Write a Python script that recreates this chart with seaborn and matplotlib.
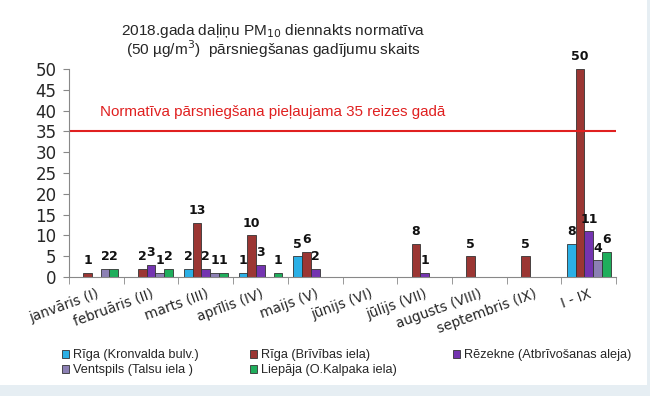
import numpy as np
import pandas as pd
import matplotlib
matplotlib.use('Agg')
import matplotlib.pyplot as plt
from matplotlib.patches import Rectangle
import seaborn as sns

months = ["janvāris (I)", "februāris (II)", "marts (III)", "aprīlis (IV)", "maijs (V)",
          "jūnijs (VI)", "jūlijs (VII)", "augusts (VIII)", "septembris (IX)", "I - IX"]
stations = ["Rīga (Kronvalda bulv.)", "Rīga (Brīvības iela)", "Rēzekne (Atbrīvošanas aleja)",
            "Ventspils (Talsu iela )", "Liepāja (O.Kalpaka iela)"]
kronvalda = [0, 0, 2, 1, 5, 0, 0, 0, 0, 8]
brivibas = [1, 2, 13, 10, 6, 0, 8, 5, 5, 50]
rezekne = [0, 3, 2, 3, 2, 0, 1, 0, 0, 11]
ventspils = [2, 1, 1, 0, 0, 0, 0, 0, 0, 4]
liepaja = [2, 2, 1, 1, 0, 0, 0, 0, 0, 6]
limit = 35
colors = ["#2bb0e6", "#9b3633", "#7434b0", "#8c80b4", "#1fae5c"]

rows = []
for st, vals in zip(stations, [kronvalda, brivibas, rezekne, ventspils, liepaja]):
    for m, v in zip(months, vals):
        rows.append({"month": m, "station": st, "count": v})
df = pd.DataFrame(rows)

sns.set_style("white")
plt.rcParams['font.family'] = ['DejaVu Sans']

fig = plt.figure(figsize=(6.5, 3.96), dpi=100)
fig.patch.set_facecolor("#e6eef3")
fig.patches.append(Rectangle((0, 0.027), 0.995, 0.973, transform=fig.transFigure,
                             facecolor="white", edgecolor="none", zorder=-5))
ax = fig.add_axes([0.106, 0.3005, 0.842, 0.5253])
ax.set_facecolor("none")
ax.set_zorder(2)

sns.barplot(data=df, x="month", y="count", hue="station", hue_order=stations,
            order=months, palette=colors, width=0.8, edgecolor="#333333",
            linewidth=0.6, ax=ax, legend=True, saturation=1)

for cont in ax.containers:
    labels = [("%d" % b.get_height()) if b.get_height() > 0 else "" for b in cont]
    ax.bar_label(cont, labels=labels, padding=4, fontsize=9, fontweight="bold", color="#111111")

ax.axhline(limit, color="#e02020", linewidth=1.5, zorder=1)
ax.text(0.07, 39.7, "Normatīva pārsniegšana pieļaujama 35 reizes gadā", color="#e02020",
        fontsize=10.9, family="Liberation Sans", va="center", ha="left")

ax.set_ylim(0, 50)
ax.set_xlim(-0.5, len(months) - 0.5)
ax.set_yticks(range(0, 51, 5))
ax.tick_params(axis="y", labelsize=12, length=4, color="#888888", direction="out", left=True, pad=5)
ax.set_xticks(np.arange(len(months)))
ax.set_xticklabels(months, rotation=20, ha="right", rotation_mode="anchor", fontsize=9.8)
ax.tick_params(axis="x", which="major", length=0, pad=7)
ax.set_xticks(np.arange(len(months) + 1) - 0.5, minor=True)
ax.tick_params(axis="x", which="minor", length=5, color="#888888", bottom=True)
ax.set_xlabel("")
ax.set_ylabel("")
for s in ["top", "right"]:
    ax.spines[s].set_visible(False)
for s in ["left", "bottom"]:
    ax.spines[s].set_color("#888888")

handles, labels = ax.get_legend_handles_labels()
ax.get_legend().remove()
columns = [([0, 3], 0.0954), ([1, 4], 0.385), ([2], 0.697)]
for idx, xpos in columns:
    fig.legend([handles[i] for i in idx], [labels[i] for i in idx], loc="upper left",
               bbox_to_anchor=(xpos, 0.118), frameon=False,
               prop={"family": "Liberation Sans", "size": 9.2},
               handlelength=0.55, handleheight=0.55, handletextpad=0.3,
               labelspacing=0.25, borderpad=0, borderaxespad=0)

fig.text(0.42, 0.922, "2018.gada daļiņu PM$_{10}$ diennakts normatīva",
         ha="center", va="center", fontsize=11.1, family="Liberation Sans")
fig.text(0.42, 0.875, "(50 µg/m$^3$)  pārsniegšanas gadījumu skaits",
         ha="center", va="center", fontsize=11.1, family="Liberation Sans")

fig.savefig("out.png", dpi=100, facecolor=fig.get_facecolor())
